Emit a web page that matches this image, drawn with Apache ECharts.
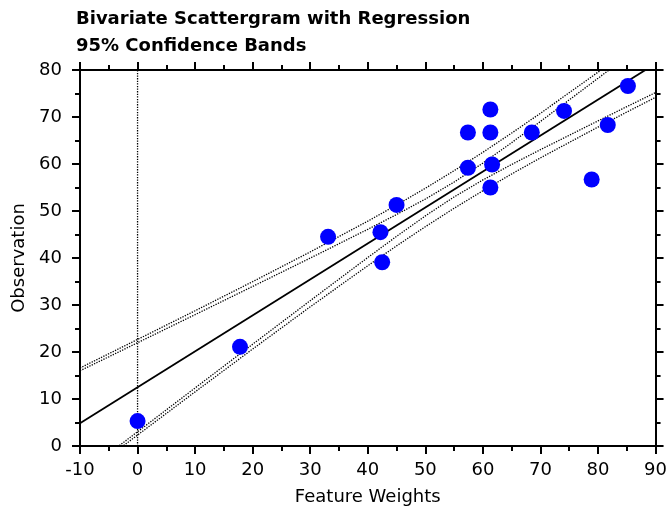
<!DOCTYPE html>
<html>
<head>
<meta charset="utf-8">
<script src="https://cdn.jsdelivr.net/npm/echarts@6/dist/echarts.min.js"></script>
<style>html,body{margin:0;padding:0;background:#fff}#c{width:670px;height:519px}</style>
</head>
<body>
<div id="c"></div>
<script>
const featureWeights = [0, 17.8, 33.1, 42.2, 42.5, 45.0, 57.4, 61.3, 61.3, 57.4, 61.6, 61.3, 68.5, 74.1, 81.7, 78.9, 85.2];
const observations   = [5.3, 21.1, 44.5, 45.5, 39.1, 51.3, 66.7, 71.6, 66.7, 59.2, 59.9, 55.0, 66.7, 71.3, 68.3, 56.7, 76.6];
const regX = [-10, 90];
const regY = [4.85, 81.35];
const bandX      = [-10, -5, 0, 10, 20, 30, 40, 45, 50, 55, 60, 65, 70, 80, 85, 90];
const upperOuter = [16.6, 19.63, 22.67, 28.78, 34.97, 41.29, 47.84, 51.27, 54.84, 58.58, 62.49, 66.58, 70.79, 79.54, 84.0, 88.52];
const upperInner = [16.0, 18.98, 21.97, 27.95, 33.95, 39.98, 46.1, 49.25, 52.54, 56.16, 60.19, 64.55, 69.05, 78.23, 82.86, 87.5];
const lowerInner = [-6.29, -1.63, 3.03, 12.35, 21.65, 30.92, 40.1, 44.6, 48.96, 52.99, 56.61, 59.9, 63.05, 69.17, 72.2, 75.2];
const lowerOuter = [-6.9, -2.28, 2.33, 11.52, 20.63, 29.61, 38.36, 42.58, 46.66, 50.58, 54.31, 57.88, 61.31, 67.86, 71.05, 74.18];
const zeroLineX = [0, 0];
const zeroLineY = [0, 80];
const xTickLabels = ['-10','0','10','20','30','40','50','60','70','80','90'];
const yTickLabels = ['0','10','20','30','40','50','60','70','80'];

const FONT = "'DejaVu Sans', 'Liberation Sans', Arial, sans-serif";
const zip = (a, b) => a.map((v, i) => [v, b[i]]);

function axisBase(extra) {
  return Object.assign({
    type: 'value',
    axisLine: { show: true, onZero: false, lineStyle: { color: '#000', width: 2 } },
    axisTick: { show: true, inside: false, length: 8, lineStyle: { color: '#000', width: 2 } },
    minorTick: { show: true, splitNumber: 2, length: 5, lineStyle: { color: '#000', width: 2 } },
    splitLine: { show: false },
    minorSplitLine: { show: false }
  }, extra);
}

const bandLine = (d) => ({
  type: 'line', data: d, showSymbol: false, symbol: 'none', clip: true,
  lineStyle: { color: '#000', width: 1.3, type: 'dotted' }, silent: true, z: 2
});

const chart = echarts.init(document.getElementById('c'), null, { renderer: 'canvas' });
chart.setOption({
  animation: false,
  backgroundColor: '#fff',
  title: {
    text: 'Bivariate Scattergram with Regression\n95% Confidence Bands',
    left: 76, top: 6, padding: 0,
    textStyle: { fontFamily: FONT, fontWeight: 'bold', fontSize: 18, color: '#000', lineHeight: 27 }
  },
  grid: { left: 80, right: 14, top: 70, bottom: 73 },
  xAxis: [
    axisBase({
      position: 'bottom', min: -10, max: 90, interval: 10,
      name: 'Feature Weights', nameLocation: 'middle', nameGap: 42,
      nameTextStyle: { fontFamily: FONT, fontSize: 18, color: '#000' },
      axisLabel: { fontFamily: FONT, fontSize: 18, color: '#000', margin: 15,
        formatter: (v) => xTickLabels[Math.round((v + 10) / 10)] }
    }),
    axisBase({ position: 'top', min: -10, max: 90, interval: 10, axisLabel: { show: false } })
  ],
  yAxis: [
    axisBase({
      position: 'left', min: 0, max: 80, interval: 10,
      name: 'Observation', nameLocation: 'middle', nameGap: 49,
      nameTextStyle: { fontFamily: FONT, fontSize: 18, color: '#000' },
      axisLabel: { fontFamily: FONT, fontSize: 18, color: '#000', margin: 18,
        formatter: (v) => yTickLabels[Math.round(v / 10)] }
    }),
    axisBase({ position: 'right', min: 0, max: 80, interval: 10, axisLabel: { show: false } })
  ],
  series: [
    {
      type: 'line', data: zip(zeroLineX, zeroLineY), showSymbol: false, symbol: 'none',
      lineStyle: { color: '#000', width: 1.3, type: 'dotted' }, z: 1
    },
    bandLine(zip(bandX, upperOuter)),
    bandLine(zip(bandX, upperInner)),
    bandLine(zip(bandX, lowerInner)),
    bandLine(zip(bandX, lowerOuter)),
    {
      type: 'line', data: zip(regX, regY), showSymbol: false, symbol: 'none', clip: true,
      lineStyle: { color: '#000', width: 1.8 }, z: 3
    },
    {
      type: 'scatter', data: zip(featureWeights, observations),
      symbol: 'circle', symbolSize: 16,
      itemStyle: { color: '#0000ff', opacity: 1 }, z: 5
    }
  ]
});
</script>
</body>
</html>
